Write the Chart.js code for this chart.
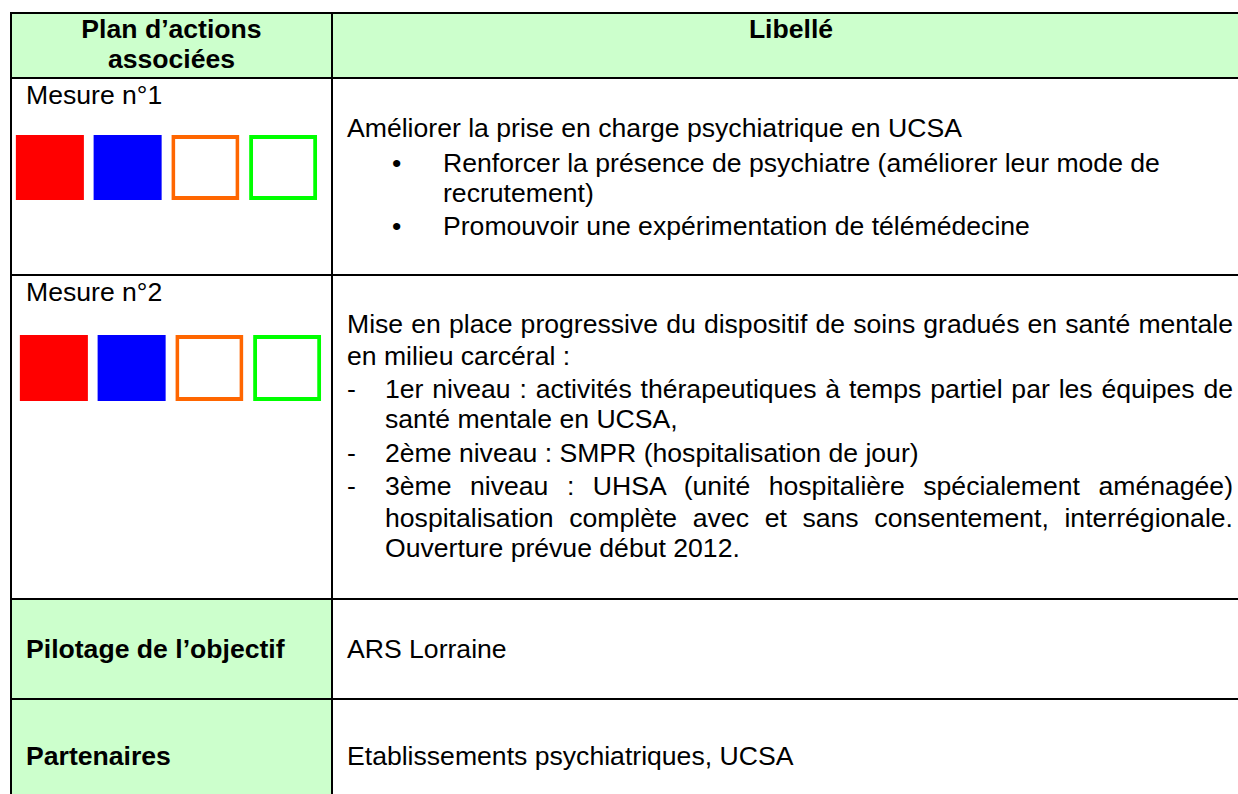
<!DOCTYPE html>
<html lang="fr">
<head>
<meta charset="utf-8">
<title>Plan d'actions associées</title>
<script src="https://cdn.jsdelivr.net/npm/chart.js@4.4.1/dist/chart.umd.min.js"></script>
<style>
    html, body {
        margin: 0;
        padding: 0;
        background: #ffffff;
        width: 1238px;
        height: 794px;
        overflow: hidden;
        font-family: "Liberation Sans", Arial, sans-serif;
        font-size: 26.6px;
        color: #000;
    }
    .line { position: absolute; white-space: nowrap; line-height: 30px; }
    .bold { font-weight: bold; }
    .just { text-align: justify; text-align-last: justify; }
    .green { position: absolute; background: #ccffcc; }
    .hr { position: absolute; left: 10px; width: 1240px; height: 2px; background: #000; }
    .vr { position: absolute; top: 12px; width: 2px; height: 790px; background: #000; }
    .squares { position: absolute; width: 311px; }
</style>
</head>
<body>

<!-- fonds verts -->
<div class="green" style="left:11px; top:13px; width:1240px; height:65px;"></div>
<div class="green" style="left:11px; top:599px; width:321px; height:200px;"></div>

<!-- grille du tableau -->
<div class="hr" style="top:12px;"></div>
<div class="hr" style="top:77px;"></div>
<div class="hr" style="top:274px;"></div>
<div class="hr" style="top:598px;"></div>
<div class="hr" style="top:698px;"></div>
<div class="vr" style="left:10px;"></div>
<div class="vr" style="left:331px;"></div>

<!-- en-tête -->
<div class="line bold" style="left:11px; width:321px; text-align:center; top:14px;">Plan d’actions</div>
<div class="line bold" style="left:11px; width:321px; text-align:center; top:44px;">associées</div>
<div class="line bold" style="left:333px; width:916px; text-align:center; top:14px;">Libellé</div>

<!-- mesure 1 -->
<div class="line" style="left:26px; top:80px;">Mesure n°1</div>
<div class="squares" style="left:11px; top:135px; height:65px;"><canvas id="mesure1"></canvas></div>

<div class="line" style="left:347px; top:113px;">Améliorer la prise en charge psychiatrique en UCSA</div>
<div class="line" style="left:392px; top:148px;">•</div>
<div class="line" style="left:443px; top:148px;">Renforcer la présence de psychiatre (améliorer leur mode de</div>
<div class="line" style="left:443px; top:178px;">recrutement)</div>
<div class="line" style="left:392px; top:211px;">•</div>
<div class="line" style="left:443px; top:211px;">Promouvoir une expérimentation de télémédecine</div>

<!-- mesure 2 -->
<div class="line" style="left:26px; top:277px;">Mesure n°2</div>
<div class="squares" style="left:15px; top:335px; height:66px;"><canvas id="mesure2"></canvas></div>

<div class="line just" style="left:347px; width:886px; top:309px;">Mise en place progressive du dispositif de soins gradués en santé mentale</div>
<div class="line" style="left:347px; top:341px;">en milieu carcéral :</div>
<div class="line" style="left:347px; top:374px;">-</div>
<div class="line just" style="left:385px; width:848px; top:374px;">1er niveau : activités thérapeutiques à temps partiel par les équipes de</div>
<div class="line" style="left:385px; top:404px;">santé mentale en UCSA,</div>
<div class="line" style="left:347px; top:438px;">-</div>
<div class="line" style="left:385px; top:438px;">2ème niveau : SMPR (hospitalisation de jour)</div>
<div class="line" style="left:347px; top:471px;">-</div>
<div class="line just" style="left:385px; width:848px; top:471px;">3ème niveau : UHSA (unité hospitalière spécialement aménagée)</div>
<div class="line just" style="left:385px; width:848px; top:503px;">hospitalisation complète avec et sans consentement, interrégionale.</div>
<div class="line" style="left:385px; top:533px;">Ouverture prévue début 2012.</div>

<!-- pilotage / partenaires -->
<div class="line bold" style="left:26px; top:634px;">Pilotage de l’objectif</div>
<div class="line" style="left:347px; top:634px;">ARS Lorraine</div>
<div class="line bold" style="left:26px; top:741px;">Partenaires</div>
<div class="line" style="left:347px; top:741px;">Etablissements psychiatriques, UCSA</div>

<script>
// les quatre carrés de couleur de chaque mesure
const categories = ['rouge', 'bleu', 'orange', 'vert'];
const mesure1Values = [1, 1, 1, 1];
const mesure2Values = [1, 1, 1, 1];

const fillColors = ['#ff0000', '#0000ff', '#ffffff', '#ffffff'];
const borderColors = ['#ff0000', '#0000ff', '#ff6600', '#00ff00'];
const borderWidths = [0, 0, 4, 4];


function createSquares(canvasId, values) {
    const _data = {
        labels: categories,
        datasets: [{
            data: values,
            backgroundColor: fillColors,
            borderColor: borderColors,
            borderWidth: borderWidths,
            borderSkipped: false,
            barPercentage: 0.875,
            categoryPercentage: 1
        }]
    }

    const _config = {
        type: 'bar',
        data: _data,
        options: {
            responsive: true,
            maintainAspectRatio: false,
            animation: false,
            layout: { padding: 0 },
            scales: {
                x: { display: false, offset: true },
                y: { display: false, min: 0, max: 1 }
            },
            plugins: {
                legend: { display: false },
                tooltip: { enabled: false }
            }
        }
    }

    new Chart(document.getElementById(canvasId), _config);
}

createSquares('mesure1', mesure1Values);
createSquares('mesure2', mesure2Values);
</script>
</body>
</html>
